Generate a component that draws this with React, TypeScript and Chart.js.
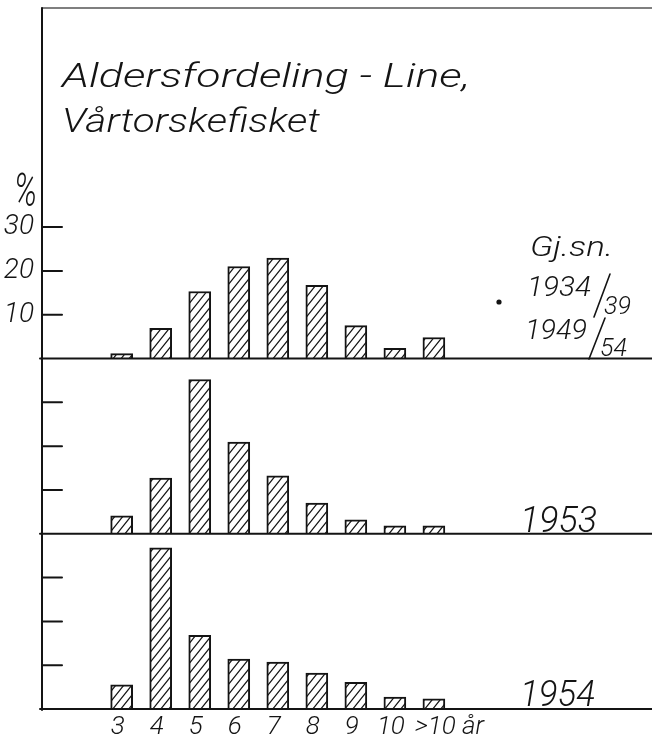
import React, { useEffect, useRef } from 'react';
import { Chart, registerables } from 'chart.js';

Chart.register(...registerables);

// ---- data ----
const ageLabels = ['3', '4', '5', '6', '7', '8', '9', '10', '>10 år'];
const avgValues = [1.1, 6.9, 15.3, 21.0, 22.9, 16.7, 7.5, 2.3, 4.8]; // Gj.sn. 1934/39 1949/54
const values1953 = [4.1, 12.7, 35.2, 20.9, 13.2, 7.0, 3.2, 1.8, 1.8];
const values1954 = [5.5, 36.8, 16.8, 11.4, 10.7, 8.2, 6.1, 2.7, 2.3];
const yTickValues = [10, 20, 30];
const panelMax = [80, 40, 40];
const titleLines = ['Aldersfordeling - Line,', 'Vårtorskefisket'];

const FONT = 'Roboto, "DejaVu Sans", sans-serif';
const INK = '#141414';

function makeHatch(): CanvasPattern | string {
  const w = 8;
  const h = 10;
  const c = document.createElement('canvas');
  c.width = w;
  c.height = h;
  const g = c.getContext('2d');
  if (!g) return '#fff';
  g.fillStyle = '#fff';
  g.fillRect(0, 0, w, h);
  g.strokeStyle = INK;
  g.lineWidth = 1.2;
  g.beginPath();
  for (const off of [-w, 0, w]) {
    g.moveTo(off - 2, h + 2.5);
    g.lineTo(off + w + 2, -2.5);
  }
  g.stroke();
  return g.createPattern(c, 'repeat') || '#fff';
}

function drawLabel(
  ctx: CanvasRenderingContext2D,
  text: string,
  x: number,
  baseline: number,
  size: number,
  width: number
) {
  ctx.save();
  ctx.font = `italic 300 ${size}px ${FONT}`;
  ctx.fillStyle = INK;
  ctx.textAlign = 'left';
  ctx.textBaseline = 'alphabetic';
  const w = ctx.measureText(text).width || 1;
  ctx.translate(x, baseline);
  ctx.scale(width / w, 1);
  ctx.fillText(text, 0, 0);
  ctx.restore();
}

const framePlugin = {
  id: 'frame',
  afterDatasetsDraw(chart: any) {
    const { ctx, chartArea, scales } = chart;
    const { left, right, top } = chartArea;
    const yIds = ['y1', 'y2', 'y3'];
    ctx.save();
    ctx.strokeStyle = INK;
    ctx.lineCap = 'round';

    // top border
    ctx.lineWidth = 1.3;
    ctx.strokeStyle = '#555';
    ctx.beginPath();
    ctx.moveTo(left, top);
    ctx.lineTo(right, top);
    ctx.stroke();

    ctx.strokeStyle = INK;
    ctx.lineWidth = 2;
    // vertical axis
    ctx.beginPath();
    ctx.moveTo(left, top);
    ctx.lineTo(left, scales.y3.getPixelForValue(0) + 1);
    ctx.stroke();

    for (const id of yIds) {
      const s = scales[id];
      const y0 = s.getPixelForValue(0);
      ctx.beginPath();
      ctx.moveTo(left - 2, y0);
      ctx.lineTo(right, y0);
      ctx.stroke();
      for (const v of yTickValues) {
        const y = s.getPixelForValue(v);
        ctx.beginPath();
        ctx.moveTo(left, y);
        ctx.lineTo(left + 20, y);
        ctx.stroke();
      }
    }

    // texts
    drawLabel(ctx, '%', 14, 206, 46, 23);
    drawLabel(ctx, titleLines[0], 62, 87, 34, 408);
    drawLabel(ctx, titleLines[1], 62, 132, 34, 258);

    drawLabel(ctx, 'Gj.sn.', 530, 256, 28, 83);
    drawLabel(ctx, '1934', 527, 296, 28, 64);
    drawLabel(ctx, '39', 604, 314, 26, 27);
    drawLabel(ctx, '1949', 525, 339, 28, 62);
    drawLabel(ctx, '54', 600, 356, 26, 27);

    ctx.lineWidth = 1.6;
    ctx.beginPath();
    ctx.moveTo(594, 317);
    ctx.lineTo(610, 274);
    ctx.moveTo(589, 359);
    ctx.lineTo(605, 318);
    ctx.stroke();

    ctx.fillStyle = INK;
    ctx.beginPath();
    ctx.arc(499, 302, 2.6, 0, Math.PI * 2);
    ctx.fill();

    drawLabel(ctx, '1953', 520, 532, 36, 77);
    drawLabel(ctx, '1954', 520, 706, 36, 75);

    ctx.restore();
  },
};

export default function App() {
  const ref = useRef<HTMLCanvasElement | null>(null);

  useEffect(() => {
    document.body.style.margin = '0';
    const canvas = ref.current;
    if (!canvas) return;
    const hatch = makeHatch();

    const mkData = (vals: number[]) => vals.map((v, i) => ({ x: i, y: v }));
    const barStyle = {
      backgroundColor: hatch,
      borderColor: INK,
      borderWidth: 2,
      borderSkipped: 'start' as const,
      barThickness: 22,
      grouped: false,
    };

    const yAxis = (max: number, weight: number, showLabels: boolean) => ({
      type: 'linear' as const,
      position: 'left' as const,
      stack: 'panels',
      stackWeight: weight,
      min: 0,
      max,
      grid: { display: false, drawTicks: false },
      border: { display: false },
      afterBuildTicks: (scale: any) => {
        scale.ticks = yTickValues.map((v) => ({ value: v }));
      },
      afterFit: (scale: any) => {
        scale.width = 42;
        scale.paddingTop = 0;
        scale.paddingBottom = 0;
      },
      ticks: {
        display: showLabels,
        padding: 8,
        color: INK,
        font: { family: FONT, size: 28, style: 'italic' as const, weight: 300 },
      },
    });

    const last = ageLabels.length - 1;

    const chart = new Chart(canvas, {
      type: 'bar',
      data: {
        datasets: [
          { label: 'Gj.sn. 1934/39 1949/54', data: mkData(avgValues), yAxisID: 'y1', ...barStyle },
          { label: '1953', data: mkData(values1953), yAxisID: 'y2', ...barStyle },
          { label: '1954', data: mkData(values1954), yAxisID: 'y3', ...barStyle },
        ],
      } as any,
      options: {
        animation: false,
        responsive: false,
        maintainAspectRatio: false,
        layout: { padding: { top: 8, left: 0, right: 0, bottom: 0 } },
        plugins: { legend: { display: false }, tooltip: { enabled: false } },
        scales: {
          x: {
            type: 'linear',
            min: -1.173,
            max: 12.72,
            grid: { display: false, drawTicks: false },
            border: { display: false },
            afterBuildTicks: (scale: any) => {
              scale.ticks = ageLabels.map((_, i) => ({ value: i }));
            },
            afterFit: (scale: any) => {
              scale.height = 29;
              scale.paddingLeft = 0;
              scale.paddingRight = 0;
            },
            ticks: {
              padding: 3,
              labelOffset: -4,
              color: INK,
              maxRotation: 0,
              autoSkip: false,
              font: { family: FONT, size: 26, style: 'italic', weight: 300 },
              callback: (v: any) => {
                const i = Math.round(Number(v));
                const s = ageLabels[i] ?? '';
                return i === last ? '\u2002\u2002\u2002' + s : s;
              },
            },
          },
          // stacked panels: the first listed is placed at the bottom
          y3: yAxis(panelMax[2], 1, false),
          y2: yAxis(panelMax[1], 1, false),
          y1: yAxis(panelMax[0], 2, true),
        } as any,
      },
      plugins: [framePlugin],
    });

    return () => chart.destroy();
  }, []);

  return (
    <div style={{ width: 652, height: 738, background: '#fff' }}>
      <canvas ref={ref} width={652} height={738} style={{ display: 'block' }} />
    </div>
  );
}
